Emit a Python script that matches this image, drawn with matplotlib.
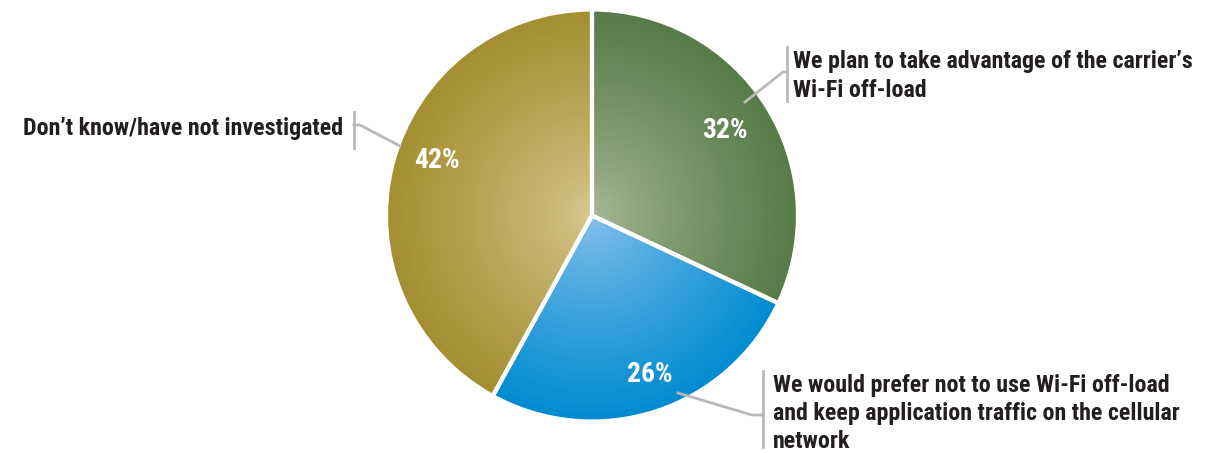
import numpy as np
import matplotlib.pyplot as plt
from matplotlib import font_manager as fm

# survey answers, clockwise from 12 o'clock
labels = [
    "We plan to take advantage of the carrier\u2019s\nWi-Fi off-load",
    "We would prefer not to use Wi-Fi off-load\nand keep application traffic on the cellular\nnetwork",
    "Don\u2019t know/have not investigated",
]
values = [32, 26, 42]
inner_colors = [(0.66, 0.73, 0.60), (0.55, 0.76, 0.93), (0.85, 0.79, 0.57)]
outer_colors = [(0.34, 0.48, 0.28), (0.0, 0.55, 0.82), (0.64, 0.56, 0.19)]

W, H = 1226, 453
fig = plt.figure(figsize=(W / 100, H / 100), dpi=100)
ax = fig.add_axes([0, 0, 1, 1])
ax.set_aspect("equal")
ax.axis("off")


def py(y):
    return H - y


cx, cy, R = 592, py(215.5), 206
wedges, _ = ax.pie(values, startangle=90, counterclock=False,
                   center=(cx, cy), radius=R, colors=["none"] * 3,
                   wedgeprops=dict(edgecolor="white", linewidth=3))

# radial shading inside each wedge
n = 400
xs = np.linspace(cx - R, cx + R, n)
ys = np.linspace(cy - R, cy + R, n)
X, Y = np.meshgrid(xs, ys)
t = np.clip(np.hypot(X - cx, Y - cy) / R, 0, 1)[..., None] ** 0.8
for w, c0, c1 in zip(wedges, inner_colors, outer_colors):
    img = np.array(c0) * (1 - t) + np.array(c1) * t
    im = ax.imshow(img, extent=(cx - R, cx + R, cy - R, cy + R),
                   origin="lower", zorder=1, interpolation="bilinear")
    im.set_clip_path(w)
    w.set_zorder(2)
ax.set_xlim(0, W)
ax.set_ylim(0, H)


# pick a narrow bold face if one is around
def pick_font():
    wanted = ["Liberation Sans Narrow", "Roboto Condensed", "Open Sans Condensed",
              "DejaVu Sans Condensed", "Noto Sans Condensed"]
    bold = [f for f in fm.fontManager.ttflist
            if (f.weight in ("bold", 700) or str(f.weight) == "700")]
    for name in wanted:
        for f in bold:
            if f.name == name:
                return fm.FontProperties(fname=f.fname)
    for f in bold:
        if f.stretch in ("condensed", "semi-condensed") and f.name in ("DejaVu Sans", "Noto Sans", "Open Sans", "Roboto"):
            return fm.FontProperties(fname=f.fname)
    return fm.FontProperties(family="Lato", weight="bold")


fp = pick_font()
txt = "#231f20"
line = "#b9b9b9"

# size the text so the widest lines span what they should
fig.canvas.draw()
r = fig.canvas.get_renderer()
target = [400, 404, 322]
scales = []
for lab, tw in zip(labels, target):
    probes = [ax.text(0, 0, s, fontproperties=fp, size=20) for s in lab.split("\n")]
    wpx = max(tt.get_window_extent(r).width for tt in probes)
    for tt in probes:
        tt.remove()
    scales.append(tw / wpx)
size = 20 * float(np.mean(scales))

# percentages
pct_pos = [(725, 130), (650, 374), (437, 160)]
for v, (px, ppy) in zip(values, pct_pos):
    ax.text(px, py(ppy), f"{v}%", color="white", fontproperties=fp,
            size=size * 1.15, ha="center", va="center", zorder=5)

# leader lines
ax.plot([745, 783, 787], [py(102), py(72), py(72)], color=line, lw=2, zorder=4)
ax.plot([787, 787], [py(47), py(101)], color=line, lw=2, zorder=4)

ax.plot([400, 360, 354], [py(146), py(125), py(125)], color=line, lw=2, zorder=4)
ax.plot([354, 354], [py(112), py(148)], color=line, lw=2, zorder=4)

ax.plot([678, 752, 763], [py(393), py(415), py(415)], color=line, lw=2, zorder=4)
ax.plot([763, 763], [py(371), py(447)], color=line, lw=2, zorder=4)

# category labels, one text per line on fixed baselines
label_pos = [(793, [68, 97], "left"), (773, [392, 420, 448], "left"), (343, [135], "right")]
for lab, (x, bases, ha) in zip(labels, label_pos):
    for s, b in zip(lab.split("\n"), bases):
        ax.text(x, py(b), s, color=txt, fontproperties=fp, size=size,
                ha=ha, va="baseline")

fig.savefig("out.png", dpi=100)
